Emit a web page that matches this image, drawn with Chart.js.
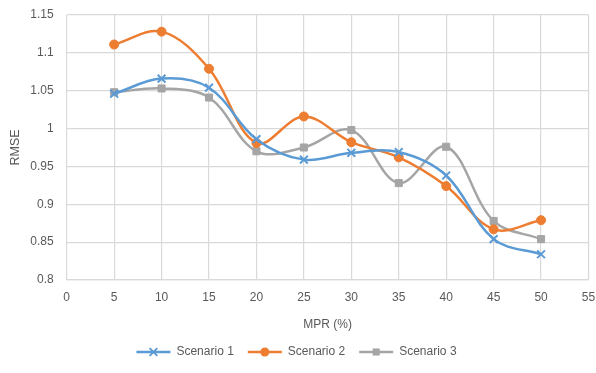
<!DOCTYPE html>
<html>
<head>
<meta charset="utf-8">
<script src="https://cdn.jsdelivr.net/npm/chart.js@4/dist/chart.umd.min.js"></script>
<style>
  html, body { margin: 0; padding: 0; background: #ffffff; }
  #wrap { width: 596px; height: 373px; }
</style>
</head>
<body>
<div id="wrap"><canvas id="c" width="596" height="373"></canvas></div>
<script>
// Missing penetration rate (%) on the x axis
const mpr = [5, 10, 15, 20, 25, 30, 35, 40, 45, 50];

// RMSE per scenario
const scenario1 = [1.046, 1.066, 1.054, 0.986, 0.959, 0.968, 0.969, 0.938, 0.854, 0.834];
const scenario2 = [1.111, 1.128, 1.079, 0.981, 1.016, 0.982, 0.962, 0.924, 0.867, 0.879];
const scenario3 = [1.048, 1.053, 1.041, 0.970, 0.975, 0.998, 0.928, 0.976, 0.878, 0.854];

const seriesNames = ['Scenario 1', 'Scenario 2', 'Scenario 3'];
const colors = ['#5B9BD5', '#ED7D31', '#A5A5A5'];
const markers = ['crossRot', 'circle', 'rect'];
const markerSizes = [5.5, 4.5, 5];

const textColor = '#595959';
const gridColor = '#D9D9D9';
const fontFamily = '"Liberation Sans", Arial, sans-serif';

function toPoints(values) {
  return values.map((v, i) => ({ x: mpr[i], y: v }));
}

const datasets = [scenario1, scenario2, scenario3].map((vals, i) => ({
  label: seriesNames[i],
  data: toPoints(vals),
  borderColor: colors[i],
  backgroundColor: colors[i],
  borderWidth: 2.5,
  pointStyle: markers[i],
  pointRadius: markerSizes[i],
  pointBorderWidth: i === 0 ? 2 : 1,
  pointBorderColor: colors[i],
  pointBackgroundColor: colors[i],
  tension: 0.36,
  fill: false
}));

// Draws a line-with-marker swatch in each legend box
const legendSwatches = {
  id: 'legendSwatches',
  afterDraw(chart) {
    const legend = chart.legend;
    if (!legend || !legend.legendHitBoxes) return;
    const ctx = chart.ctx;
    const boxW = legend.options.labels.boxWidth;
    legend.legendHitBoxes.forEach((hb, i) => {
      const cy = hb.top + hb.height / 2;
      const x0 = hb.left;
      const x1 = hb.left + boxW;
      const cx = (x0 + x1) / 2;
      ctx.save();
      ctx.strokeStyle = colors[i];
      ctx.fillStyle = colors[i];
      ctx.lineWidth = 2.5;
      ctx.beginPath();
      ctx.moveTo(x0, cy);
      ctx.lineTo(x1, cy);
      ctx.stroke();
      const r = markerSizes[i];
      if (markers[i] === 'circle') {
        ctx.beginPath();
        ctx.arc(cx, cy, r, 0, Math.PI * 2);
        ctx.fill();
      } else if (markers[i] === 'rect') {
        const s = r * Math.SQRT1_2 * 2;
        ctx.fillRect(cx - s / 2, cy - s / 2, s, s);
      } else {
        const d = r * Math.SQRT1_2;
        ctx.lineWidth = 2;
        ctx.beginPath();
        ctx.moveTo(cx - d, cy - d); ctx.lineTo(cx + d, cy + d);
        ctx.moveTo(cx + d, cy - d); ctx.lineTo(cx - d, cy + d);
        ctx.stroke();
      }
      ctx.restore();
    });
  }
};

new Chart(document.getElementById('c'), {
  type: 'line',
  data: { datasets },
  plugins: [legendSwatches],
  options: {
    responsive: false,
    animation: false,
    devicePixelRatio: 1,
    layout: { padding: { left: 4, right: 7, top: 15, bottom: 5 } },
    plugins: {
      tooltip: { enabled: false },
      legend: {
        position: 'bottom',
        labels: {
          color: textColor,
          font: { family: fontFamily, size: 12 },
          boxWidth: 34,
          boxHeight: 12,
          padding: 14,
          generateLabels(chart) {
            return chart.data.datasets.map((ds, i) => ({
              text: ds.label,
              fillStyle: 'rgba(0,0,0,0)',
              strokeStyle: 'rgba(0,0,0,0)',
              lineWidth: 0,
              fontColor: textColor,
              hidden: false,
              datasetIndex: i
            }));
          }
        }
      }
    },
    scales: {
      x: {
        type: 'linear',
        min: 0,
        max: 55,
        ticks: {
          stepSize: 5,
          maxRotation: 0,
          color: textColor,
          font: { family: fontFamily, size: 12 },
          padding: 10
        },
        grid: { color: gridColor, lineWidth: 1.2, drawTicks: false },
        border: { color: gridColor, width: 1.2 },
        title: {
          display: true,
          text: 'MPR (%)',
          color: textColor,
          font: { family: fontFamily, size: 12 },
          padding: { top: 6, bottom: 0 }
        },
        afterFit(scale) {
          scale.height = 52;
          scale.paddingLeft = 0;
          scale.paddingRight = 0;
        }
      },
      y: {
        min: 0.8,
        max: 1.15,
        ticks: {
          stepSize: 0.05,
          color: textColor,
          font: { family: fontFamily, size: 12 },
          padding: 13,
          callback: (v) => String(Math.round(v * 100) / 100)
        },
        grid: { color: gridColor, lineWidth: 1.2, drawTicks: false },
        border: { display: false },
        title: {
          display: true,
          text: 'RMSE',
          color: textColor,
          font: { family: fontFamily, size: 12.5 },
          padding: { top: 4, bottom: 4 }
        },
        afterFit(scale) {
          scale.width = 62.7;
          scale.paddingTop = 0;
          scale.paddingBottom = 0;
        }
      }
    }
  }
});
</script>
</body>
</html>
